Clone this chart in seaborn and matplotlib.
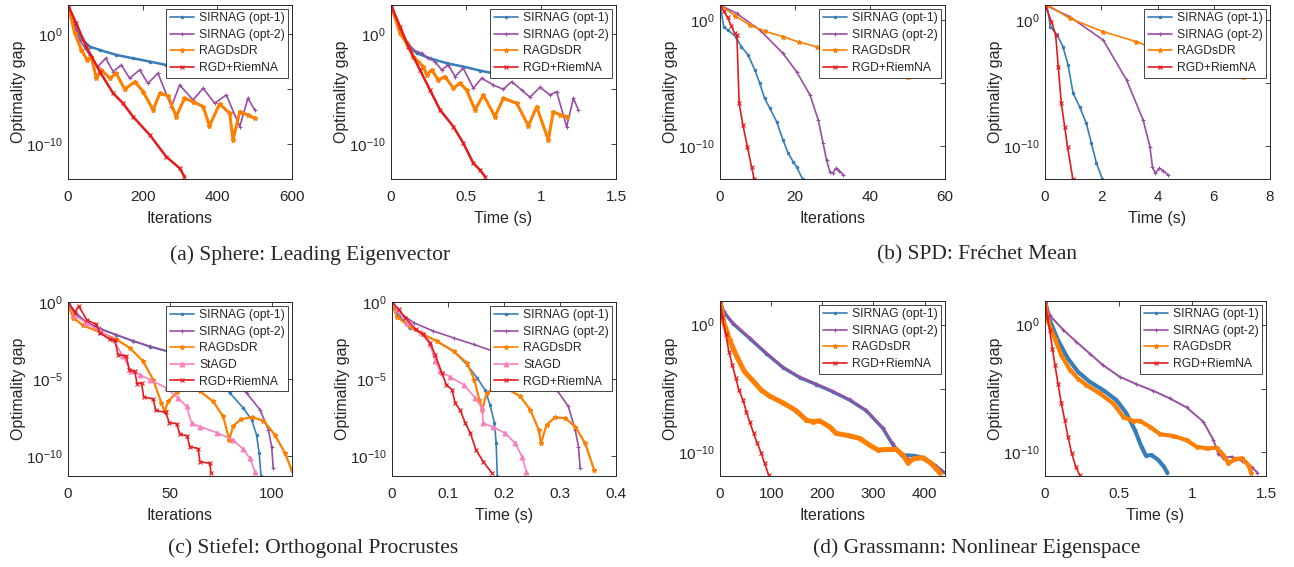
import numpy as np
import pandas as pd
import seaborn as sns
import matplotlib.pyplot as plt
from matplotlib.ticker import FixedLocator, FixedFormatter, NullLocator

# values; y stored as log10(optimality gap)

# (a) Sphere, iterations
A_IT_OPT1_X = [0, 22, 40, 58, 85, 129, 174, 219, 263, 308, 353, 397, 442, 496]
A_IT_OPT1_LG = [2.67, 0.40, -0.52, -1.12, -1.43, -1.88, -2.19, -2.49, -2.80, -3.10, -3.40, -3.55, -3.70, -3.80]
A_IT_OPT2_X = [0, 31, 58, 80, 101, 121, 143, 165, 192, 214, 241, 277, 299, 335, 362, 393, 424, 460, 482, 500]
A_IT_OPT2_LG = [2.67, -0.52, -1.88, -2.95, -2.19, -3.40, -2.80, -4.01, -3.25, -4.47, -3.56, -6.60, -4.62, -5.99,
                -4.92, -6.29, -5.53, -8.42, -5.84, -6.90]
A_IT_RAGD_X = [0, 18, 36, 51, 62, 76, 89, 112, 129, 152, 179, 201, 228, 246, 268, 290, 312, 335, 362, 379, 406,
               433, 442, 460, 482, 500]
A_IT_RAGD_LG = [2.67, 0.09, -1.43, -2.34, -2.04, -4.01, -3.25, -4.01, -3.56, -5.02, -4.32, -5.23, -6.90, -5.38,
                -5.62, -7.51, -5.84, -6.14, -6.60, -8.36, -6.35, -7.20, -9.64, -7.05, -7.36, -7.66]
A_IT_RGD_X = [0, 22, 49, 85, 121, 147, 174, 219, 263, 299, 312]
A_IT_RGD_LG = [2.67, 1.00, -1.12, -3.40, -5.38, -6.29, -7.51, -9.18, -11.16, -12.22, -12.98]

# (a) Sphere, time
A_T_OPT1_X = [0, 0.06, 0.104, 0.171, 0.26, 0.371, 0.482, 0.593, 0.704, 0.76]
A_T_OPT1_LG = [2.67, 0.24, -0.82, -1.73, -2.19, -2.64, -2.95, -3.31, -3.62, -3.80]
A_T_OPT2_X = [0, 0.082, 0.149, 0.204, 0.249, 0.293, 0.338, 0.382, 0.427, 0.482, 0.549, 0.604, 0.682, 0.749,
              0.804, 0.871, 0.927, 0.993, 1.06, 1.104, 1.171, 1.216, 1.249]
A_T_OPT2_LG = [2.67, -0.21, -1.43, -1.73, -2.19, -2.49, -3.25, -2.80, -3.86, -3.10, -4.92, -4.01, -4.62, -5.02,
               -4.32, -5.08, -5.74, -4.83, -5.53, -5.23, -8.42, -5.84, -6.90]
A_T_RAGD_X = [0, 0.06, 0.104, 0.149, 0.182, 0.216, 0.238, 0.271, 0.316, 0.36, 0.416, 0.46, 0.504, 0.56, 0.616,
              0.693, 0.749, 0.838, 0.916, 0.971, 1.049, 1.082, 1.127, 1.171]
A_T_RAGD_LG = [2.67, 0.09, -0.82, -2.04, -2.49, -2.95, -3.71, -3.25, -4.16, -3.86, -4.92, -4.47, -5.08, -6.90,
               -5.53, -7.51, -5.84, -6.29, -8.36, -6.60, -9.64, -7.05, -7.36, -7.51]
A_T_RGD_X = [0, 0.06, 0.116, 0.193, 0.26, 0.327, 0.416, 0.482, 0.549, 0.593, 0.627]
A_T_RGD_LG = [2.67, 0.70, -1.12, -3.25, -5.08, -6.90, -8.42, -9.94, -11.76, -12.37, -12.98]

# (b) SPD, iterations
B_IT_OPT1_X = [0, 1, 2, 4.2, 5.7, 7.5, 9.3, 10.6, 11.9, 13.3, 15.1, 16.8, 18.2, 19.5, 20.4, 22]
B_IT_OPT1_LG = [1.19, -0.53, -0.79, -1.32, -2.12, -2.78, -3.97, -5.03, -6.22, -7.01, -8.07, -9.52, -10.58,
                -11.24, -11.64, -12.62]
B_IT_OPT2_X = [0, 4.4, 10.6, 16.8, 20.4, 24.0, 26.2, 27.5, 28.4, 29.3, 30.0, 30.9, 31.8, 32.9]
B_IT_OPT2_LG = [1.19, 0.53, -0.79, -2.65, -4.10, -5.95, -7.94, -9.79, -11.11, -12.04, -12.17, -11.77, -11.96, -12.30]
B_IT_RAGD_X = [0, 4, 7.9, 12, 16.8, 21, 25.8, 30, 34.7, 39, 43.6, 50]
B_IT_RAGD_LG = [1.19, 0.35, -0.40, -0.90, -1.32, -1.75, -2.12, -2.52, -2.91, -3.35, -3.84, -4.50]
B_IT_RGD_X = [0, 1, 2, 3, 3.9, 4.5, 5.1, 6.1, 7.3, 8.4, 9.1]
B_IT_RGD_LG = [1.19, 0.70, 0.20, -0.45, -1.06, -1.19, -6.61, -8.33, -10.05, -11.64, -12.62]

# (b) SPD, time
B_T_OPT1_X = [0.07, 0.19, 0.43, 0.64, 0.82, 1.0, 1.23, 1.47, 1.65, 1.83, 2.04]
B_T_OPT1_LG = [1.19, -0.53, -1.19, -2.12, -3.57, -5.82, -6.88, -8.20, -9.79, -11.38, -12.62]
B_T_OPT2_X = [0, 0.88, 2.07, 2.90, 3.49, 3.73, 3.82, 3.92, 4.06, 4.20, 4.38]
B_T_OPT2_LG = [1.19, 0.26, -1.59, -4.76, -7.94, -10.05, -11.64, -12.17, -11.77, -11.96, -12.30]
B_T_RAGD_X = [0.1, 0.88, 2.07, 3.25, 3.96, 5.0, 6.0, 7.05]
B_T_RAGD_LG = [1.19, 0.13, -0.93, -1.72, -2.33, -3.05, -3.75, -4.50]
B_T_RGD_X = [0, 0.23, 0.38, 0.47, 0.58, 0.70, 0.80, 0.99]
B_T_RGD_LG = [1.19, -0.13, -1.19, -3.70, -6.61, -8.47, -10.05, -12.62]

# (c) Stiefel, iterations
C_IT_OPT1_X = [0, 4.1, 9.0, 15.6, 23.8, 32.0, 40.2, 48.4, 71.3, 79.5, 86.1, 90.2, 92.6, 93.9, 94.8]
C_IT_OPT1_LG = [-0.04, -0.80, -1.35, -1.74, -2.15, -2.54, -2.91, -3.20, -4.87, -5.91, -6.89, -7.65, -8.63, -9.83, -11.30]
C_IT_OPT2_X = [0, 4.1, 9.0, 15.6, 23.8, 32.0, 40.2, 48.4, 79.5, 87.7, 94.3, 98.4, 100.0, 100.8]
C_IT_OPT2_LG = [0, -0.74, -1.30, -1.72, -2.13, -2.52, -2.87, -3.17, -5.04, -5.91, -7.00, -8.30, -9.39, -10.80]
C_IT_RAGD_X = [0, 2.5, 7.4, 15.6, 23.8, 30.3, 36.9, 41.8, 45.9, 47.4, 49.2, 53.3, 58.2, 64.8, 71.3, 76.2, 79.2,
               81.1, 85.2, 90.2, 95.9, 101.6, 106.6, 109.8]
C_IT_RAGD_LG = [-0.15, -1.02, -1.52, -1.96, -2.43, -2.98, -3.85, -5.04, -6.57, -7.11, -6.46, -5.87, -5.65, -5.80,
                -6.46, -7.43, -8.96, -8.04, -7.61, -7.48, -7.70, -8.63, -9.83, -10.91]
C_IT_STAGD_X = [0, 3.3, 9.0, 15.6, 22.1, 27.0, 31.1, 35.2, 40.2, 48.4, 54.1, 58.2, 60.7, 64.8, 73.0, 81.1, 86.1,
                89.3, 91.8]
C_IT_STAGD_LG = [0, -0.87, -1.35, -1.89, -2.43, -3.52, -4.50, -4.72, -5.04, -5.59, -6.24, -6.78, -7.87, -8.09,
                 -8.48, -8.96, -9.57, -10.15, -11.02]
C_IT_RGD_X = [0, 3.3, 5.2, 9.3, 13.9, 15.6, 20.5, 23.0, 24.6, 28.7, 30.0, 32.8, 33.9, 36.1, 37.2, 41.8, 43.1, 48.0,
              49.7, 53.3, 54.9, 58.5, 59.8, 63.9, 64.8, 69.7, 70.2]
C_IT_RGD_LG = [0, -0.70, -0.26, -1.17, -1.46, -2.00, -2.43, -2.48, -3.41, -3.52, -4.39, -4.50, -5.30, -5.26, -6.17,
               -6.30, -7.04, -7.17, -7.83, -7.91, -8.57, -8.70, -9.39, -9.52, -10.37, -10.48, -11.13]

# (c) Stiefel, time
C_T_OPT1_X = [0, 0.012, 0.033, 0.056, 0.080, 0.110, 0.134, 0.152, 0.166, 0.175, 0.183, 0.186, 0.188]
C_T_OPT1_LG = [-0.04, -0.91, -1.67, -2.11, -2.54, -3.20, -4.07, -4.93, -5.70, -6.67, -7.87, -9.17, -11.30]
C_T_OPT2_X = [0, 0.015, 0.039, 0.074, 0.110, 0.146, 0.181, 0.229, 0.265, 0.294, 0.315, 0.327, 0.333, 0.336]
C_T_OPT2_LG = [0, -0.74, -1.35, -1.89, -2.33, -2.76, -3.20, -4.17, -4.93, -5.70, -6.78, -8.30, -9.39, -10.80]
C_T_RAGD_X = [0, 0.009, 0.030, 0.056, 0.080, 0.110, 0.134, 0.147, 0.156, 0.161, 0.169, 0.181, 0.205, 0.229, 0.247,
              0.262, 0.266, 0.276, 0.291, 0.309, 0.327, 0.345, 0.361]
C_T_RAGD_LG = [-0.15, -0.96, -1.57, -2.11, -2.54, -3.20, -3.96, -5.04, -6.35, -7.04, -5.91, -5.63, -5.63, -6.13,
               -7.00, -8.30, -9.17, -7.98, -7.50, -7.54, -8.09, -9.17, -10.91]
C_T_STAGD_X = [0, 0.009, 0.027, 0.051, 0.068, 0.077, 0.086, 0.104, 0.128, 0.149, 0.161, 0.163, 0.181, 0.202, 0.220,
               0.232, 0.240]
C_T_STAGD_LG = [0, -0.48, -1.35, -1.96, -2.76, -3.85, -4.50, -4.87, -5.37, -6.24, -6.89, -7.87, -8.13, -8.52,
                -9.17, -10.04, -11.02]
C_T_RGD_X = [0, 0.012, 0.024, 0.042, 0.056, 0.068, 0.077, 0.089, 0.097, 0.107, 0.113, 0.122, 0.131, 0.140, 0.150,
             0.163, 0.178]
C_T_RGD_LG = [0, -0.48, -1.02, -1.78, -2.11, -2.65, -3.41, -4.61, -5.37, -5.70, -6.57, -7.04, -7.87, -8.52, -9.61,
              -10.37, -11.09]

# (d) Grassmann, iterations
D_IT_OPT1_X = [0, 7.2, 25.4, 58.0, 90.6, 123.1, 155.7, 188.3, 220.8, 253.4, 286.0, 318.6, 338.1, 354.4, 367.4,
               383.7, 400.0, 419.5, 435.8]
D_IT_OPT1_LG = [1.85, 0.99, 0.08, -1.09, -2.27, -3.36, -4.14, -4.69, -5.26, -5.91, -6.74, -8.13, -9.43, -10.21,
                -10.21, -10.26, -10.47, -10.99, -11.51]
D_IT_OPT2_X = [0, 7.2, 25.4, 58.0, 90.6, 123.1, 155.7, 188.3, 220.8, 253.4, 286.0, 318.6, 338.1, 354.4, 370.7,
               387.0, 403.3, 422.8, 440.4]
D_IT_OPT2_LG = [1.85, 1.07, 0.13, -1.02, -2.21, -3.31, -4.09, -4.64, -5.21, -5.86, -6.69, -8.07, -9.30, -10.16,
                -10.55, -10.42, -10.60, -11.07, -11.59]
D_IT_RAGD_X = [0, 5.9, 18.9, 33.2, 48.2, 64.5, 80.8, 97.1, 123.1, 149.2, 168.7, 181.8, 194.8, 214.3, 227.4, 253.4,
               273.0, 292.5, 308.8, 325.1, 344.6, 357.7, 367.4, 380.5, 396.7, 413.0, 429.3]
D_IT_RAGD_LG = [1.85, 0.34, -1.22, -2.53, -3.70, -4.40, -5.13, -5.60, -6.12, -6.74, -7.47, -7.60, -7.53, -8.00,
                -8.52, -8.70, -8.91, -9.43, -9.82, -9.77, -9.77, -10.21, -10.81, -10.47, -10.42, -10.86, -11.59]
D_IT_RGD_X = [0, 4.6, 11.1, 17.6, 24.1, 30.6, 37.1, 45.0, 51.5, 58.0, 65.8, 73.0, 80.8, 87.3, 95.1]
D_IT_RGD_LG = [1.85, 0.60, -0.70, -2.14, -3.18, -4.14, -5.13, -5.91, -6.82, -7.60, -8.52, -9.30, -10.08, -10.86, -11.77]

# (d) Grassmann, time
D_T_OPT1_X = [0, 0.032, 0.088, 0.156, 0.224, 0.304, 0.395, 0.485, 0.553, 0.610, 0.655, 0.685, 0.723, 0.769, 0.807,
              0.830]
D_T_OPT1_LG = [1.85, 0.34, -1.22, -2.66, -3.70, -4.48, -5.13, -5.91, -6.95, -8.26, -9.56, -10.26, -10.21, -10.60,
               -11.12, -11.59]
D_T_OPT2_X = [0, 0.032, 0.122, 0.213, 0.304, 0.395, 0.508, 0.621, 0.735, 0.848, 0.961, 1.075, 1.143, 1.177, 1.211,
              1.268, 1.336, 1.404, 1.442]
D_T_OPT2_LG = [1.85, 0.73, -0.39, -1.35, -2.27, -3.18, -4.09, -4.66, -5.18, -5.78, -6.48, -7.60, -9.04, -10.13,
               -10.42, -10.34, -10.65, -11.17, -11.59]
D_T_RAGD_X = [0, 0.018, 0.066, 0.111, 0.168, 0.224, 0.281, 0.372, 0.463, 0.531, 0.599, 0.644, 0.712, 0.780, 0.871,
              0.961, 1.029, 1.098, 1.166, 1.211, 1.245, 1.290, 1.336, 1.381, 1.399]
D_T_RAGD_LG = [1.85, 0.34, -1.09, -2.40, -3.52, -4.22, -4.74, -5.39, -6.17, -7.21, -7.55, -7.53, -8.00, -8.57,
               -8.72, -9.04, -9.56, -9.69, -9.64, -10.21, -10.86, -10.52, -10.47, -10.99, -11.59]
D_T_RGD_X = [0, 0.016, 0.032, 0.050, 0.068, 0.088, 0.111, 0.134, 0.156, 0.181, 0.209, 0.236]
D_T_RGD_LG = [1.85, 0.60, -0.44, -1.87, -3.18, -4.61, -6.17, -7.47, -8.78, -10.08, -11.12, -11.80]

COLORS = {'SIRNAG (opt-1)': '#377eb8', 'SIRNAG (opt-2)': '#984ea3', 'RAGDsDR': '#ff7f00',
          'StAGD': '#f781bf', 'RGD+RiemNA': '#e41a1c'}
MARKERS = {'SIRNAG (opt-1)': '.', 'SIRNAG (opt-2)': '+', 'RAGDsDR': '*', 'StAGD': '^', 'RGD+RiemNA': 'x'}

CAPTIONS = ['(a) Sphere: Leading Eigenvector', '(b) SPD: Fréchet Mean',
            '(c) Stiefel: Orthogonal Procrustes', '(d) Grassmann: Nonlinear Eigenspace']

sns.set_style('white')
plt.rcParams['font.family'] = ['Liberation Sans', 'DejaVu Sans']
plt.rcParams['mathtext.default'] = 'regular'

W, H = 1294, 567
fig = plt.figure(figsize=(W / 100, H / 100), dpi=100)


def px_axes(left, top, right, bottom):
    return fig.add_axes([left / W, 1 - bottom / H, (right - left) / W, (bottom - top) / H])


# panel: box, series, xlim, xticks, xlabel, ylim (log10), labelled y exponents, widths
panels = [
    ((68, 5, 292, 179),
     [('SIRNAG (opt-1)', A_IT_OPT1_X, A_IT_OPT1_LG), ('SIRNAG (opt-2)', A_IT_OPT2_X, A_IT_OPT2_LG),
      ('RAGDsDR', A_IT_RAGD_X, A_IT_RAGD_LG), ('RGD+RiemNA', A_IT_RGD_X, A_IT_RGD_LG)],
     (0, 600), [0, 200, 400, 600], 'Iterations', (-13.2, 2.67), [0, -10], {'RAGDsDR': 2.2, 'SIRNAG (opt-1)': 1.8, 'RGD+RiemNA': 1.8}),
    ((391, 5, 616, 179),
     [('SIRNAG (opt-1)', A_T_OPT1_X, A_T_OPT1_LG), ('SIRNAG (opt-2)', A_T_OPT2_X, A_T_OPT2_LG),
      ('RAGDsDR', A_T_RAGD_X, A_T_RAGD_LG), ('RGD+RiemNA', A_T_RGD_X, A_T_RGD_LG)],
     (0, 1.5), [0, 0.5, 1, 1.5], 'Time (s)', (-13.2, 2.67), [0, -10], {'RAGDsDR': 2.2, 'SIRNAG (opt-1)': 1.8, 'RGD+RiemNA': 1.8}),
    ((720, 5, 945, 179),
     [('SIRNAG (opt-1)', B_IT_OPT1_X, B_IT_OPT1_LG), ('SIRNAG (opt-2)', B_IT_OPT2_X, B_IT_OPT2_LG),
      ('RAGDsDR', B_IT_RAGD_X, B_IT_RAGD_LG), ('RGD+RiemNA', B_IT_RGD_X, B_IT_RGD_LG)],
     (0, 60), [0, 20, 40, 60], 'Iterations', (-12.62, 1.19), [0, -10], {}),
    ((1045, 5, 1270, 179),
     [('SIRNAG (opt-1)', B_T_OPT1_X, B_T_OPT1_LG), ('SIRNAG (opt-2)', B_T_OPT2_X, B_T_OPT2_LG),
      ('RAGDsDR', B_T_RAGD_X, B_T_RAGD_LG), ('RGD+RiemNA', B_T_RGD_X, B_T_RGD_LG)],
     (0, 8), [0, 2, 4, 6, 8], 'Time (s)', (-12.62, 1.19), [0, -10], {}),
    ((68, 302, 292, 476),
     [('SIRNAG (opt-1)', C_IT_OPT1_X, C_IT_OPT1_LG), ('SIRNAG (opt-2)', C_IT_OPT2_X, C_IT_OPT2_LG),
      ('RAGDsDR', C_IT_RAGD_X, C_IT_RAGD_LG), ('StAGD', C_IT_STAGD_X, C_IT_STAGD_LG),
      ('RGD+RiemNA', C_IT_RGD_X, C_IT_RGD_LG)],
     (0, 110), [0, 50, 100], 'Iterations', (-11.3, 0), [0, -5, -10], {'RAGDsDR': 1.6}),
    ((392, 302, 616, 476),
     [('SIRNAG (opt-1)', C_T_OPT1_X, C_T_OPT1_LG), ('SIRNAG (opt-2)', C_T_OPT2_X, C_T_OPT2_LG),
      ('RAGDsDR', C_T_RAGD_X, C_T_RAGD_LG), ('StAGD', C_T_STAGD_X, C_T_STAGD_LG),
      ('RGD+RiemNA', C_T_RGD_X, C_T_RGD_LG)],
     (0, 0.4), [0, 0.1, 0.2, 0.3, 0.4], 'Time (s)', (-11.3, 0), [0, -5, -10], {'RAGDsDR': 1.6}),
    ((720, 301, 945, 476),
     [('SIRNAG (opt-1)', D_IT_OPT1_X, D_IT_OPT1_LG), ('SIRNAG (opt-2)', D_IT_OPT2_X, D_IT_OPT2_LG),
      ('RAGDsDR', D_IT_RAGD_X, D_IT_RAGD_LG), ('RGD+RiemNA', D_IT_RGD_X, D_IT_RGD_LG)],
     (0, 440), [0, 100, 200, 300, 400], 'Iterations', (-11.85, 1.85), [0, -10],
     {'SIRNAG (opt-1)': 2.4, 'SIRNAG (opt-2)': 1.6, 'RAGDsDR': 3.6}),
    ((1045, 301, 1266, 476),
     [('SIRNAG (opt-1)', D_T_OPT1_X, D_T_OPT1_LG), ('SIRNAG (opt-2)', D_T_OPT2_X, D_T_OPT2_LG),
      ('RAGDsDR', D_T_RAGD_X, D_T_RAGD_LG), ('RGD+RiemNA', D_T_RGD_X, D_T_RGD_LG)],
     (0, 1.5), [0, 0.5, 1, 1.5], 'Time (s)', (-11.85, 1.85), [0, -10],
     {'SIRNAG (opt-1)': 3.0, 'SIRNAG (opt-2)': 1.4, 'RAGDsDR': 3.0}),
]

for box, series, xlim, xticks, xlabel, ylim, ylabelled, widths in panels:
    ax = px_axes(*box)
    for name, xs, lg in series:
        df = pd.DataFrame({'x': xs, 'gap': 10.0 ** np.asarray(lg)})
        sns.lineplot(data=df, x='x', y='gap', ax=ax, color=COLORS[name], marker=MARKERS[name],
                     markersize=3.5, markeredgewidth=0.8, markeredgecolor=COLORS[name],
                     linewidth=widths.get(name, 1.2), label=name, sort=False, estimator=None)
    ax.set_yscale('log')
    ax.set_xlim(*xlim)
    ax.set_ylim(10.0 ** ylim[0], 10.0 ** ylim[1])
    ax.set_xticks(xticks)
    ax.set_xticklabels([f'{t:g}' for t in xticks])
    yt = [e for e in (0, -5, -10) if ylim[0] <= e <= ylim[1]]
    ax.yaxis.set_major_locator(FixedLocator([10.0 ** e for e in yt]))
    ax.yaxis.set_major_formatter(FixedFormatter([f'$10^{{{e}}}$' if e in ylabelled else '' for e in yt]))
    ax.yaxis.set_minor_locator(NullLocator())
    ax.tick_params(direction='in', top=True, right=True, length=3.5, width=0.6,
                   labelsize=11, colors='#262626')
    ax.tick_params(axis='x', pad=8)
    ax.tick_params(axis='y', pad=4)
    for s in ax.spines.values():
        s.set_color('#262626')
        s.set_linewidth(0.7)
    ax.set_xlabel(xlabel, fontsize=11.5, color='#262626', labelpad=5)
    ax.set_ylabel('Optimality gap', fontsize=11.5, color='#262626', labelpad=0)
    leg = ax.legend(loc='upper right', fontsize=8.7, frameon=True, fancybox=False, framealpha=1,
                    edgecolor='#262626', borderpad=0.3, labelspacing=0.38, handlelength=2.0,
                    handletextpad=0.4, borderaxespad=0.3)
    leg.get_frame().set_linewidth(0.6)
    for h in leg.legend_handles:
        h.set_linewidth(1.2)

cap_pos = [(310, 255), (977, 255), (313, 548), (977, 548)]
for (cx, cy), text in zip(cap_pos, CAPTIONS):
    fig.text(cx / W, 1 - cy / H, text, ha='center', va='center', fontsize=15.5,
             family=['Liberation Serif', 'DejaVu Serif'])

fig.savefig('out.png', dpi=100)
